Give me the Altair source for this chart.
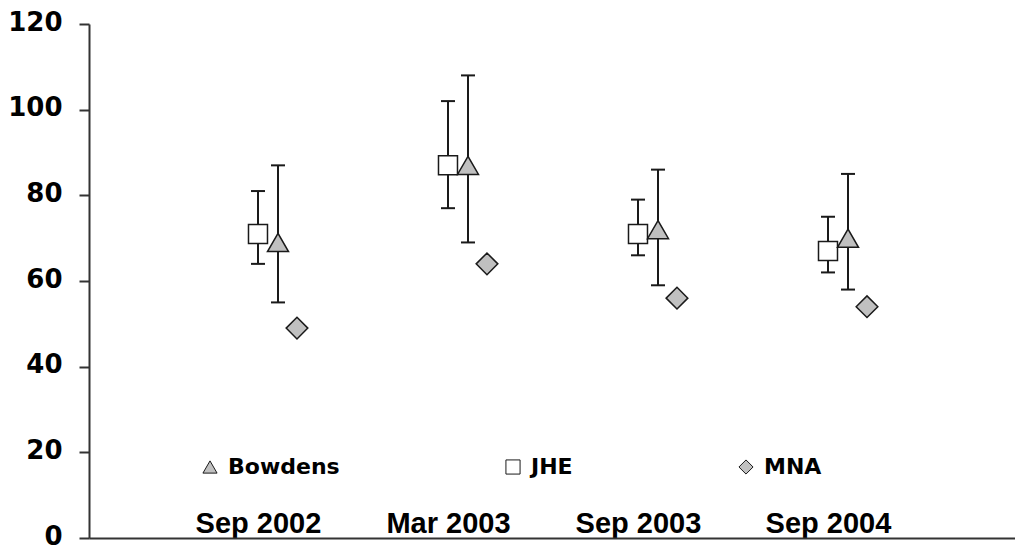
import altair as alt
import pandas as pd

dates = ["Sep 2002", "Mar 2003", "Sep 2003", "Sep 2004"]
series_names = ["Bowdens", "JHE", "MNA"]

bowdens = [69, 87, 72, 70]
bowdens_lo = [55, 69, 59, 58]
bowdens_hi = [87, 108, 86, 85]

jhe = [71, 87, 71, 67]
jhe_lo = [64, 77, 66, 62]
jhe_hi = [81, 102, 79, 75]

mna = [49, 64, 56, 54]

y_ticks = [0, 20, 40, 60, 80, 100, 120]

rows = []
for i, d in enumerate(dates):
    rows.append(dict(date=d, series="Bowdens", value=bowdens[i], lo=bowdens_lo[i], hi=bowdens_hi[i]))
    rows.append(dict(date=d, series="JHE", value=jhe[i], lo=jhe_lo[i], hi=jhe_hi[i]))
    rows.append(dict(date=d, series="MNA", value=mna[i], lo=None, hi=None))
df = pd.DataFrame(rows)

# styling (not data)
offsets = {"JHE": 0, "Bowdens": 20, "MNA": 39}
sizes = {"JHE": 361, "Bowdens": 441, "MNA": 470}
ink = "#1a1a1a"
axis_col = "#333333"

x_enc = alt.X(
    "date:N",
    sort=dates,
    scale=alt.Scale(type="point", padding=0.9368, align=0.4747),
    axis=alt.Axis(
        title=None, ticks=False, grid=False, labelAngle=0,
        labelFont="Liberation Sans", labelFontSize=29, labelFontWeight="bold",
        labelColor="black", labelBaseline="alphabetic", labelPadding=-6,
        domainColor=axis_col, domainWidth=2,
    ),
)

y_scale = alt.Scale(domain=[0, 120], nice=False, zero=True)
y_axis = alt.Axis(
    values=y_ticks, title=None, grid=False, tickSize=10, tickColor=axis_col, tickWidth=2,
    domainColor=axis_col, domainWidth=2, labelFont="DejaVu Sans", labelFontSize=26,
    labelFontWeight="bold", labelColor="black", labelPadding=17, labelOffset=-2,
)

legend = alt.Legend(
    title=None, orient="none", legendX=110, legendY=432, direction="horizontal",
    columnPadding=162, padding=0, symbolSize=200, symbolStrokeColor=ink,
    symbolStrokeWidth=1, labelFont="DejaVu Sans", labelFontSize=22,
    labelFontWeight="bold", labelColor="black", labelOffset=7,
)
shape_scale = alt.Scale(domain=series_names, range=["triangle-up", "square", "diamond"])
fill_scale = alt.Scale(domain=series_names, range=["#c0c0c0", "#ffffff", "#c0c0c0"])
stroke_scale = alt.Scale(domain=series_names, range=[ink, ink, ink])

base = alt.Chart(df)
layers = []
for s in ["JHE", "Bowdens"]:
    sub = base.transform_filter(alt.datum.series == s)
    layers.append(
        sub.mark_rule(xOffset=offsets[s], strokeWidth=2, color=ink).encode(
            x=x_enc, y=alt.Y("lo:Q", scale=y_scale, axis=y_axis), y2="hi:Q"
        )
    )
    for f in ["lo", "hi"]:
        layers.append(
            sub.mark_tick(xOffset=offsets[s], size=14, thickness=2, color=ink, opacity=1).encode(
                x=x_enc, y=alt.Y(f"{f}:Q", scale=y_scale, axis=y_axis)
            )
        )

for s in ["JHE", "Bowdens", "MNA"]:
    sub = base.transform_filter(alt.datum.series == s)
    layers.append(
        sub.mark_point(
            xOffset=offsets[s], filled=True, size=sizes[s],
            strokeWidth=1.5, opacity=1,
        ).encode(
            x=x_enc,
            y=alt.Y("value:Q", scale=y_scale, axis=y_axis),
            shape=alt.Shape("series:N", scale=shape_scale, legend=legend),
            fill=alt.Fill("series:N", scale=fill_scale, legend=legend),
            stroke=alt.Stroke("series:N", scale=stroke_scale, legend=legend),
        )
    )

chart = (
    alt.layer(*layers)
    .properties(
        width=926, height=514,
        autosize=alt.AutoSizeParams(type="none"),
        padding={"left": 81, "top": 16, "right": 0, "bottom": 9},
        background="white",
    )
    .configure_view(stroke=None)
)

chart.save("out.html", embed_options={"renderer": "svg", "actions": False})
